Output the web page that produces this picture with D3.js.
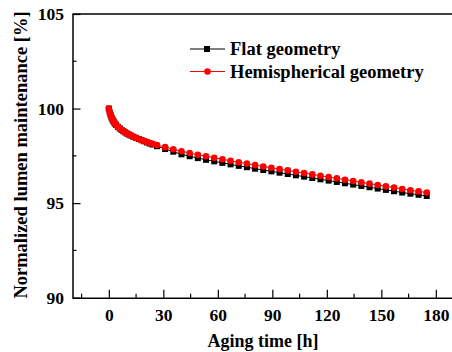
<!DOCTYPE html>
<html><head><meta charset="utf-8">
<script src="https://cdn.jsdelivr.net/npm/d3@7"></script>
<style>body{margin:0;background:#fff}svg{display:block}</style>
</head><body><svg id="c" width="452" height="352"></svg>
<script>
const times = [0,0.5,1,1.5,2,2.5,3,3.5,4,5,6,7,8,9,10,11,12,13.5,15,16.5,18,19.5,21,22.5,24,
  26.5,31,35.5,40,44.5,49,53.5,58,62.5,67,71.5,76,80.5,85,89.5,94,98.5,103,107.5,112,116.5,121,125.5,130,134.5,139,143.5,148,152.5,157,161.5,166,170.5,175];
const hemi = [100,99.8,99.65,99.52,99.42,99.33,99.26,99.19,99.13,99.03,98.95,98.87,98.80,98.74,98.68,98.63,98.58,98.51,98.45,98.39,98.33,98.28,98.23,98.18,98.14,
  98.07,97.96,97.85,97.74,97.65,97.56,97.48,97.40,97.32,97.24,97.16,97.09,97.01,96.94,96.87,96.80,96.73,96.66,96.59,96.52,96.45,96.38,96.31,96.24,96.17,96.10,96.03,95.96,95.89,95.82,95.75,95.68,95.62,95.56];
const flat = [100,99.8,99.65,99.52,99.42,99.33,99.26,99.19,99.13,99.03,98.95,98.87,98.80,98.74,98.68,98.63,98.58,98.51,98.45,98.39,98.33,98.27,98.21,98.15,98.10,
  98.01,97.86,97.72,97.58,97.48,97.38,97.29,97.21,97.13,97.05,96.97,96.90,96.82,96.75,96.68,96.61,96.54,96.47,96.40,96.33,96.26,96.19,96.12,96.05,95.98,95.91,95.84,95.77,95.70,95.63,95.56,95.50,95.44,95.38];
const xTicks = [0,30,60,90,120,150,180];
const xMinor = [-15,15,45,75,105,135,165];
const yTicks = [90,95,100,105];
const yMinor = [92.5,97.5,102.5];
const seriesNames = ["Flat geometry","Hemispherical geometry"];
const xTitle = "Aging time [h]";
const yTitle = "Normalized lumen maintenance [%]";

const svg = d3.select("#c");
const font = "'Liberation Serif','Times New Roman',serif";
const x = d3.scaleLinear().domain([-20,190]).range([72.5,454]);
const y = d3.scaleLinear().domain([90,105]).range([297.7,14]);

// frame
svg.append("line").attr("x1",x(-20)).attr("x2",460).attr("y1",y(105)).attr("y2",y(105)).attr("stroke","#000").attr("stroke-width",1.5);

const xAxis = svg.append("g").attr("transform",`translate(0,${y(90)})`)
  .call(d3.axisBottom(x).tickValues(xTicks).tickSizeInner(-8).tickSizeOuter(0).tickPadding(11));
xAxis.selectAll(".tick text").attr("font-family",font).attr("font-weight","bold").attr("font-size","17.5px").attr("fill","#000");
xAxis.select(".domain").attr("stroke-width",1.5);
xAxis.selectAll(".tick line").attr("stroke-width",1.2);
xAxis.selectAll(".minor").data(xMinor).enter().append("line").attr("class","minor")
  .attr("x1",d=>x(d)).attr("x2",d=>x(d)).attr("y1",0).attr("y2",-4).attr("stroke","#000").attr("stroke-width",1.2);

const yAxis = svg.append("g").attr("transform",`translate(${x(-20)},0)`)
  .call(d3.axisLeft(y).tickValues(yTicks).tickSizeInner(-8).tickSizeOuter(0).tickPadding(8.5));
yAxis.selectAll(".tick text").attr("font-family",font).attr("font-weight","bold").attr("font-size","17.5px").attr("fill","#000");
yAxis.select(".domain").attr("stroke-width",1.5);
yAxis.selectAll(".tick line").attr("stroke-width",1.2);
yAxis.selectAll(".minor").data(yMinor).enter().append("line").attr("class","minor")
  .attr("y1",d=>y(d)).attr("y2",d=>y(d)).attr("x1",0).attr("x2",4).attr("stroke","#000").attr("stroke-width",1.2);

// titles
svg.append("text").attr("x",263).attr("y",347).attr("text-anchor","middle")
  .attr("font-family",font).attr("font-weight","bold").attr("font-size","18px").text(xTitle);
svg.append("text").attr("transform","translate(27,155) rotate(-90)").attr("text-anchor","middle")
  .attr("font-family",font).attr("font-weight","bold").attr("font-size","18.5px").text(yTitle);

// data
const flatData = times.map((t,i)=>({t,v:flat[i]}));
const hemiData = times.map((t,i)=>({t,v:hemi[i]}));
const line = d3.line().x(d=>x(d.t)).y(d=>y(d.v));
svg.append("path").datum(flatData).attr("d",line).attr("fill","none").attr("stroke","#000").attr("stroke-width",1);
svg.selectAll(".sq").data(flatData).enter().append("rect").attr("class","sq")
  .attr("x",d=>x(d.t)-3).attr("y",d=>y(d.v)-3).attr("width",6).attr("height",6).attr("fill","#000");
svg.append("path").datum(hemiData).attr("d",line).attr("fill","none").attr("stroke","#f00").attr("stroke-width",1);
svg.selectAll(".ci").data(hemiData).enter().append("circle").attr("class","ci")
  .attr("cx",d=>x(d.t)).attr("cy",d=>y(d.v)).attr("r",3.3).attr("fill","#f00");

// legend
const leg = svg.append("g");
const rows = [{name:seriesNames[0],c:"#000",sq:true,y:49},{name:seriesNames[1],c:"#f00",sq:false,y:71.5}];
rows.forEach(r=>{
  leg.append("line").attr("x1",190).attr("x2",225).attr("y1",r.y).attr("y2",r.y).attr("stroke",r.c).attr("stroke-width",1);
  if(r.sq) leg.append("rect").attr("x",204).attr("y",r.y-3).attr("width",6).attr("height",6).attr("fill",r.c);
  else leg.append("circle").attr("cx",207.5).attr("cy",r.y).attr("r",3.3).attr("fill",r.c);
  leg.append("text").attr("x",230).attr("y",r.y+6).attr("font-family",font).attr("font-weight","bold").attr("font-size","18.5px").text(r.name);
});
</script></body></html>
